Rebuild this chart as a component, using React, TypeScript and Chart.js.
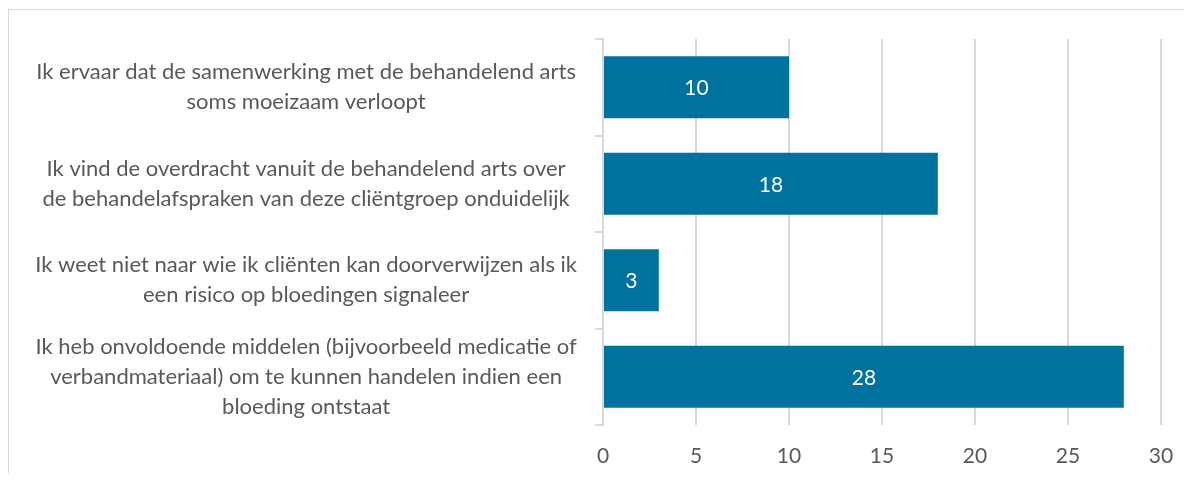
import React, { useEffect, useRef } from "react";
import { Chart, registerables } from "chart.js";

Chart.register(...registerables);

const categories: string[][] = [
  ["Ik ervaar dat de samenwerking met de behandelend arts", "soms moeizaam verloopt"],
  ["Ik vind de overdracht vanuit de behandelend arts over", "de behandelafspraken van deze cliëntgroep onduidelijk"],
  ["Ik weet niet naar wie ik cliënten kan doorverwijzen als ik", "een risico op bloedingen signaleer"],
  ["Ik heb onvoldoende middelen (bijvoorbeeld medicatie of", "verbandmateriaal) om te kunnen handelen indien een", "bloeding ontstaat"],
];
const values: number[] = [10, 18, 3, 28];
const xMin = 0;
const xMax = 30;
const xStep = 5;

const FONT = "Lato";
const TEXT = "#595959";
const GRID = "#d9d9d9";
const BAR = "#0072A0";

const valueLabels = {
  id: "valueLabels",
  afterDatasetsDraw(chart: any) {
    const ctx = chart.ctx;
    const meta = chart.getDatasetMeta(0);
    ctx.save();
    ctx.fillStyle = "#ffffff";
    ctx.font = `21px ${FONT}`;
    ctx.textAlign = "center";
    ctx.textBaseline = "middle";
    meta.data.forEach((el: any, i: number) => {
      const p = el.getCenterPoint();
      ctx.fillText(String(values[i]), p.x, p.y + 1);
    });
    ctx.restore();
  },
};

export default function App() {
  const ref = useRef<HTMLCanvasElement | null>(null);
  useEffect(() => {
    let chart: Chart | null = null;
    let cancelled = false;
    const make = () => {
      if (cancelled || !ref.current) return;
      chart = new Chart(ref.current, {
        type: "bar",
        data: {
          labels: categories,
          datasets: [
            {
              data: values,
              backgroundColor: BAR,
              borderWidth: 0,
              barPercentage: 0.645,
              categoryPercentage: 1,
            },
          ],
        },
        options: {
          indexAxis: "y",
          animation: false,
          responsive: false,
          layout: { padding: { left: 0, right: 23, top: 31, bottom: 0 } },
          plugins: { legend: { display: false }, tooltip: { enabled: false } },
          scales: {
            x: {
              min: xMin,
              max: xMax,
              ticks: {
                stepSize: xStep,
                color: TEXT,
                font: { family: FONT, size: 21, lineHeight: 1.2 },
                padding: 19,
              },
              grid: { color: GRID, lineWidth: 2, drawTicks: false },
              border: { display: false },
              afterFit: (s: any) => {
                s.height = 48;
                s.paddingLeft = 0;
                s.paddingRight = 0;
              },
            },
            y: {
              ticks: {
                color: TEXT,
                crossAlign: "center",
                autoSkip: false,
                padding: 18,
                font: { family: FONT, size: 22, lineHeight: 1.36 },
              },
              grid: {
                drawOnChartArea: false,
                drawTicks: true,
                tickLength: 8,
                color: GRID,
                lineWidth: 2,
                offset: true,
              },
              border: { display: true, color: GRID, width: 2 },
              afterFit: (s: any) => {
                s.width = 595;
                s.paddingTop = 0;
                s.paddingBottom = 0;
              },
            },
          },
        },
        plugins: [valueLabels],
      });
    };
    if ((document as any).fonts && (document as any).fonts.load) {
      (document as any).fonts.load(`22px ${FONT}`).then(make, make);
    } else {
      make();
    }
    return () => {
      cancelled = true;
      if (chart) chart.destroy();
    };
  }, []);

  return (
    <div style={{ position: "relative", width: 1176, height: 465, overflow: "hidden" }}>
      <div
        style={{
          position: "absolute",
          left: 0,
          top: 1,
          width: 1400,
          height: 700,
          border: `1px solid ${GRID}`,
          boxSizing: "border-box",
        }}
      />
      <canvas
        ref={ref}
        width={1176}
        height={465}
        style={{ position: "absolute", left: 0, top: 0, width: 1176, height: 465 }}
      />
    </div>
  );
}
